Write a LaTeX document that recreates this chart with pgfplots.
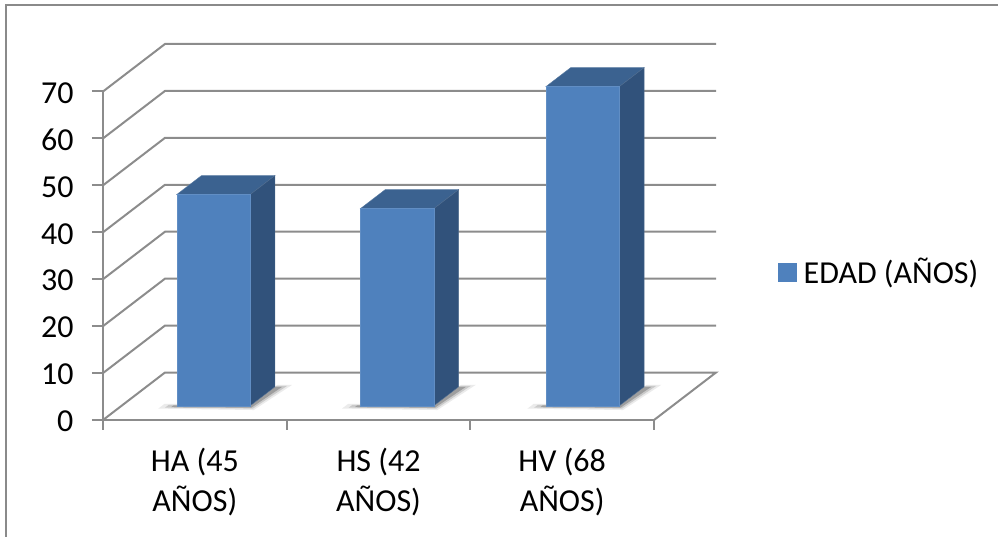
\documentclass[border=0pt]{standalone}
\usepackage{fontspec}
\setmainfont{Carlito}
\usepackage{pgfplots}
\usepackage{pgfplotstable}
\pgfplotsset{compat=1.18}

\definecolor{barfront}{HTML}{4F81BD}
\definecolor{barside}{HTML}{31527B}
\definecolor{bartop}{HTML}{3B6290}
\definecolor{gridgray}{HTML}{8C8C8C}
\definecolor{framegray}{HTML}{8A8A8A}

% Soft floor shadow of one bar, as nested outlines in floor coordinates
\pgfplotstableread{
x y z
0.22 0.24 0
0.75 0.21 0
0.78 0.74 0
0.70 0.74 0
0.70 0.34 0
0.22 0.34 0
}\shadowouter
\pgfplotstableread{
x y z
0.25 0.26 0
0.735 0.24 0
0.76 0.72 0
0.70 0.72 0
0.70 0.32 0
0.25 0.32 0
}\shadowmiddle
\pgfplotstableread{
x y z
0.28 0.27 0
0.72 0.26 0
0.74 0.70 0
0.70 0.70 0
0.70 0.31 0
0.28 0.31 0
}\shadowinner

\newcommand{\floorshadow}[1]{%
  \addplot3[forget plot, draw=none, fill=black, fill opacity=0.08]
    table[x expr=\thisrow{x}+#1, y=y, z=z] {\shadowouter};
  \addplot3[forget plot, draw=none, fill=black, fill opacity=0.14]
    table[x expr=\thisrow{x}+#1, y=y, z=z] {\shadowmiddle};
  \addplot3[forget plot, draw=none, fill=black, fill opacity=0.22]
    table[x expr=\thisrow{x}+#1, y=y, z=z] {\shadowinner};
}

\begin{document}
\begin{tikzpicture}[x=1pt,y=1pt]
  \path[use as bounding box] (0,0) rectangle (998,-537);
  % outer chart frame, open on the right and at the bottom
  \draw[framegray, line width=2pt] (6,-537) -- (6,-5) -- (998,-5);

  \begin{axis}[
    at={(103pt,-420pt)}, anchor=origin,
    x={(183.67pt,0pt)}, y={(62pt,47.5pt)}, z={(0pt,4.693pt)},
    xmin=0, xmax=3, ymin=0, ymax=1, zmin=0, zmax=70,
    clip=false,
    axis lines=left,
    axis line style={draw=none},
    major tick length=0pt,
    ytick=\empty,
    ztick={0,10,...,70},
    xtick={0.5,1.5,2.5},
    xticklabels={{HA (45\\AÑOS)},{HS (42\\AÑOS)},{HV (68\\AÑOS)}},
    /pgf/number format/assume math mode=true,
    xticklabel style={align=center, font=\fontsize{32}{40}\selectfont, anchor=north, yshift=-25pt},
    zticklabel style={font=\fontsize{32}{38}\selectfont, anchor=east, xshift=-26pt, yshift=-1.5pt},
    legend style={draw=none, fill=none, at={(1.1012,0.394)}, anchor=west,
      font=\fontsize{32}{38}\selectfont, inner sep=0pt, row sep=0pt,
      nodes={inner xsep=7pt}},
    legend image code/.code={\fill[barfront] (0pt,-9pt) rectangle (18pt,9pt);},
  ]
    % horizontal grid on the left wall and the back wall
    \addplot3[forget plot, gridgray, line width=2pt] coordinates {(0,0,0) (0,1,0) (3,1,0) (3,0,0)};
    \addplot3[forget plot, gridgray, line width=2pt] coordinates {(0,0,10) (0,1,10) (3,1,10)};
    \addplot3[forget plot, gridgray, line width=2pt] coordinates {(0,0,20) (0,1,20) (3,1,20)};
    \addplot3[forget plot, gridgray, line width=2pt] coordinates {(0,0,30) (0,1,30) (3,1,30)};
    \addplot3[forget plot, gridgray, line width=2pt] coordinates {(0,0,40) (0,1,40) (3,1,40)};
    \addplot3[forget plot, gridgray, line width=2pt] coordinates {(0,0,50) (0,1,50) (3,1,50)};
    \addplot3[forget plot, gridgray, line width=2pt] coordinates {(0,0,60) (0,1,60) (3,1,60)};
    \addplot3[forget plot, gridgray, line width=2pt] coordinates {(0,0,70) (0,1,70) (3,1,70)};

    % front axis lines with their outward ticks
    \addplot3[forget plot, gridgray, line width=2pt] coordinates {(0,0,70) (0,0,0) (3,0,0)};
    \addplot3[forget plot, gridgray, line width=2pt] coordinates {(0,0,0) (0,0,-2.2)};
    \addplot3[forget plot, gridgray, line width=2pt] coordinates {(1,0,0) (1,0,-2.2)};
    \addplot3[forget plot, gridgray, line width=2pt] coordinates {(2,0,0) (2,0,-2.2)};
    \addplot3[forget plot, gridgray, line width=2pt] coordinates {(3,0,0) (3,0,-2.2)};
    \addplot3[forget plot, gridgray, line width=2pt] coordinates {(-0.06,0,0) (0,0,0)};
    \addplot3[forget plot, gridgray, line width=2pt] coordinates {(-0.06,0,10) (0,0,10)};
    \addplot3[forget plot, gridgray, line width=2pt] coordinates {(-0.06,0,20) (0,0,20)};
    \addplot3[forget plot, gridgray, line width=2pt] coordinates {(-0.06,0,30) (0,0,30)};
    \addplot3[forget plot, gridgray, line width=2pt] coordinates {(-0.06,0,40) (0,0,40)};
    \addplot3[forget plot, gridgray, line width=2pt] coordinates {(-0.06,0,50) (0,0,50)};
    \addplot3[forget plot, gridgray, line width=2pt] coordinates {(-0.06,0,60) (0,0,60)};
    \addplot3[forget plot, gridgray, line width=2pt] coordinates {(-0.06,0,70) (0,0,70)};

    \floorshadow{0}
    \floorshadow{1}
    \floorshadow{2.01}

    % HA
    \addplot3[forget plot, fill=bartop, draw=bartop!85!white, line width=0.4pt]
      coordinates {(0.3,0.3,45) (0.7,0.3,45) (0.7,0.7,45) (0.3,0.7,45)} -- cycle;
    \addplot3[forget plot, fill=barside, draw=barside!85!white, line width=0.4pt]
      coordinates {(0.7,0.3,0) (0.7,0.7,0) (0.7,0.7,45) (0.7,0.3,45)} -- cycle;
    \addplot3[fill=barfront, draw=barfront!90!white, line width=0.4pt]
      coordinates {(0.3,0.3,0) (0.7,0.3,0) (0.7,0.3,45) (0.3,0.3,45)} -- cycle;
    \addlegendentry{EDAD (AÑOS)}

    % HS
    \addplot3[forget plot, fill=bartop, draw=bartop!85!white, line width=0.4pt]
      coordinates {(1.3,0.3,42) (1.7,0.3,42) (1.7,0.7,42) (1.3,0.7,42)} -- cycle;
    \addplot3[forget plot, fill=barside, draw=barside!85!white, line width=0.4pt]
      coordinates {(1.7,0.3,0) (1.7,0.7,0) (1.7,0.7,42) (1.7,0.3,42)} -- cycle;
    \addplot3[forget plot, fill=barfront, draw=barfront!90!white, line width=0.4pt]
      coordinates {(1.3,0.3,0) (1.7,0.3,0) (1.7,0.3,42) (1.3,0.3,42)} -- cycle;

    % HV
    \addplot3[forget plot, fill=bartop, draw=bartop!85!white, line width=0.4pt]
      coordinates {(2.31,0.3,68) (2.71,0.3,68) (2.71,0.7,68) (2.31,0.7,68)} -- cycle;
    \addplot3[forget plot, fill=barside, draw=barside!85!white, line width=0.4pt]
      coordinates {(2.71,0.3,0) (2.71,0.7,0) (2.71,0.7,68) (2.71,0.3,68)} -- cycle;
    \addplot3[forget plot, fill=barfront, draw=barfront!90!white, line width=0.4pt]
      coordinates {(2.31,0.3,0) (2.71,0.3,0) (2.71,0.3,68) (2.31,0.3,68)} -- cycle;
  \end{axis}
\end{tikzpicture}
\end{document}
